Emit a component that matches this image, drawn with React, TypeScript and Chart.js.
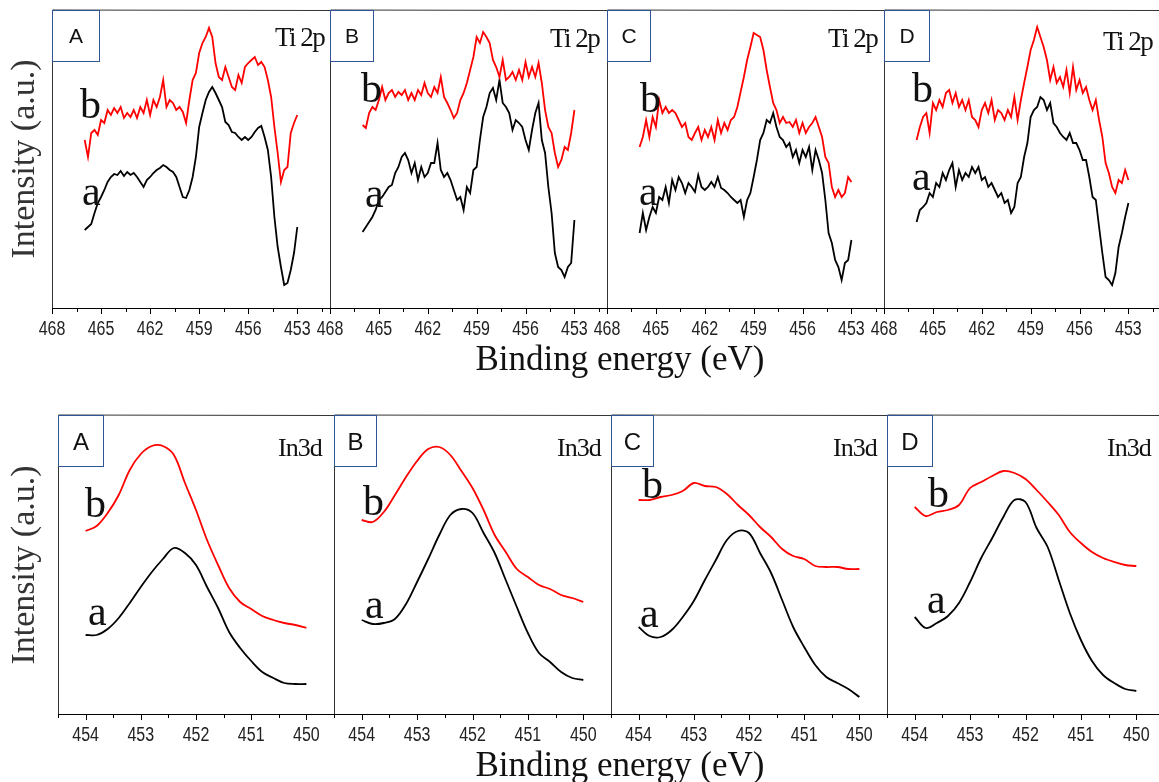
import React, { useEffect, useRef } from "react";
import { Chart, registerables } from "chart.js";

Chart.register(...registerables);

// ---------- DATA ----------
const tiEnergy = [
  466.0, 465.8, 465.6, 465.4, 465.2, 465.0, 464.8, 464.6, 464.4, 464.2,
  464.0, 463.8, 463.6, 463.4, 463.2, 463.0, 462.8, 462.6, 462.4, 462.2,
  462.0, 461.8, 461.6, 461.4, 461.2, 461.0, 460.8, 460.6, 460.4, 460.2,
  460.0, 459.8, 459.6, 459.4, 459.2, 459.0, 458.8, 458.6, 458.4, 458.2,
  458.0, 457.8, 457.6, 457.4, 457.2, 457.0, 456.8, 456.6, 456.4, 456.2,
  456.0, 455.8, 455.6, 455.4, 455.2, 455.0, 454.8, 454.6, 454.4, 454.2,
  454.0, 453.8, 453.6, 453.4, 453.2, 453.0,
];

const tiA_a = [
  77, 80, 83, 94, 104, 110, 117, 125, 130, 133,
  132, 136, 131, 135, 132, 134, 130, 125, 120, 127,
  130, 134, 137, 139, 142, 140, 137, 135, 130, 120,
  110, 109, 117, 130, 150, 180, 194, 207, 215, 220,
  214, 207, 200, 185, 182, 175, 174, 170, 167, 170,
  167, 170, 175, 179, 181, 170, 157, 130, 90, 60,
  40, 22, 24, 37, 54, 80,
];
const tiA_b = [
  167, 150, 174, 177, 172, 187, 184, 197, 192, 199,
  194, 200, 189, 194, 190, 197, 189, 200, 194, 207,
  192, 207, 200, 210, 227, 200, 207, 204, 197, 200,
  195, 184, 207, 227, 234, 254, 264, 270, 279, 270,
  244, 230, 227, 240, 230, 220, 217, 232, 224, 240,
  244, 247, 250, 242, 245, 240, 227, 210, 180, 154,
  125, 137, 140, 174, 184, 192,
];
const tiB_a = [
  75, 80, 85, 90, 97, 107, 110, 115, 120, 122,
  134, 140, 150, 154, 147, 134, 144, 127, 140, 130,
  134, 144, 144, 164, 137, 130, 134, 127, 117, 107,
  110, 97, 120, 114, 137, 140, 167, 190, 200, 214,
  219, 207, 227, 204, 200, 194, 177, 187, 184, 180,
  167, 157, 177, 194, 204, 167, 154, 120, 94, 54,
  40, 37, 30, 40, 44, 87,
];
const tiB_b = [
  182, 179, 194, 200, 197, 207, 220, 207, 214, 217,
  210, 215, 212, 217, 207, 214, 207, 217, 212, 224,
  214, 210, 220, 214, 230, 210, 204, 197, 189, 194,
  207, 214, 224, 237, 250, 270, 264, 275, 270, 264,
  247, 240, 230, 247, 227, 230, 235, 227, 237, 227,
  245, 230, 240, 230, 244, 224, 197, 180, 174, 154,
  140, 147, 160, 157, 174, 197,
];
const tiC_a = [
  74, 94, 77, 90, 100, 94, 110, 107, 120, 104,
  127, 117, 130, 124, 114, 124, 120, 115, 132, 120,
  117, 120, 125, 120, 130, 119, 117, 114, 110, 107,
  104, 107, 90, 107, 114, 130, 147, 167, 174, 187,
  184, 194, 180, 170, 167, 160, 164, 150, 157, 144,
  157, 150, 160, 137, 157, 147, 134, 107, 74, 64,
  47, 40, 27, 44, 47, 67,
];
const tiC_b = [
  160, 170, 187, 170, 190, 180, 207, 194, 200, 194,
  197, 194, 187, 180, 184, 170, 167, 174, 180, 167,
  177, 170, 180, 167, 187, 174, 184, 177, 187, 190,
  200, 215, 230, 247, 260, 274, 272, 270, 257, 237,
  220, 204, 197, 184, 190, 184, 185, 180, 187, 174,
  184, 174, 180, 184, 190, 180, 170, 150, 144, 120,
  110, 117, 110, 114, 130, 125,
];
const tiD_a = [
  85, 97, 100, 104, 114, 110, 124, 120, 134, 127,
  137, 144, 120, 137, 127, 134, 130, 140, 134, 140,
  127, 130, 120, 124, 117, 110, 114, 104, 107, 94,
  100, 124, 130, 150, 164, 190, 197, 200, 210, 207,
  197, 204, 184, 180, 174, 170, 167, 174, 164, 164,
  157, 147, 147, 130, 110, 107, 80, 54, 30, 27,
  22, 34, 60, 74, 90, 104,
];
const tiD_b = [
  167, 180, 190, 194, 174, 204, 197, 207, 200, 214,
  217, 204, 214, 200, 207, 197, 207, 190, 187, 180,
  197, 204, 194, 207, 187, 197, 194, 187, 197, 190,
  210, 187, 207, 224, 240, 257, 267, 280, 270, 260,
  247, 227, 240, 224, 230, 220, 237, 214, 240, 217,
  227, 214, 220, 207, 197, 207, 187, 170, 144, 134,
  120, 114, 127, 124, 137, 127,
];

const inEnergy = [
  454.0, 453.8, 453.6, 453.4, 453.2, 453.0, 452.8, 452.6, 452.4, 452.2,
  452.0, 451.8, 451.6, 451.4, 451.2, 451.0, 450.8, 450.6, 450.4, 450.2, 450.0,
];
const inA_a = [78, 78, 84, 95, 110, 126, 141, 154, 165, 160, 148, 126, 105, 81, 65, 52, 41, 35, 30, 29, 29];
const inA_b = [182, 187, 200, 218, 243, 259, 267, 267, 258, 230, 203, 173, 148, 125, 111, 104, 97, 93, 90, 88, 85];
const inB_a = [93, 89, 90, 94, 109, 131, 154, 178, 198, 204, 200, 180, 160, 133, 106, 80, 60, 51, 41, 35, 33];
const inB_b = [193, 191, 201, 218, 236, 252, 264, 266, 258, 242, 225, 203, 178, 161, 144, 136, 128, 124, 118, 115, 111];
const inC_a = [86, 77, 76, 83, 96, 112, 133, 153, 173, 182, 180, 160, 140, 113, 86, 66, 48, 36, 30, 24, 16];
const inC_b = [213, 213, 216, 218, 222, 230, 227, 226, 219, 208, 198, 186, 176, 164, 157, 154, 147, 146, 146, 144, 144];
const inD_a = [96, 85, 90, 97, 110, 131, 155, 175, 196, 213, 211, 185, 166, 133, 100, 73, 52, 38, 30, 24, 22];
const inD_b = [206, 197, 201, 203, 208, 225, 231, 237, 242, 240, 234, 223, 211, 198, 181, 170, 161, 155, 151, 148, 147];

const tiTicks = [468, 466.5, 465, 463.5, 462, 460.5, 459, 457.5, 456, 454.5, 453, 451.5];
const tiMajor = [468, 465, 462, 459, 456, 453];
const inTicks = [454.5, 454, 453.5, 453, 452.5, 452, 451.5, 451, 450.5, 450, 449.5];
const inMajor = [454, 453, 452, 451, 450];

const panelLetters = ["A", "B", "C", "D"];
const tiTitle = "Ti 2p";
const inTitle = "In3d";
const xTitle = "Binding energy (eV)";
const yTitle = "Intensity (a.u.)";

// ---------- LAYOUT ----------
const TOP = { y0: 10, y1: 308, cols: [[52, 330], [330, 607], [607, 884], [884, 1161]] };
const BOT = { y0: 415, y1: 714, cols: [[58, 334], [334, 611], [611, 887], [887, 1164]] };

const SERIF = "'Liberation Serif', 'Times New Roman', serif";
const SANS = "'Liberation Sans', Arial, sans-serif";

type PanelProps = {
  left: number;
  right: number;
  top: number;
  bottom: number;
  energy: number[];
  a: number[];
  b: number[];
  xMin: number;
  xMax: number;
  yMin: number;
  yMax: number;
  ticks: number[];
  major: number[];
  tension: number;
};

const PADX = 24;
const PADT = 6;
const AXIS_H = 40;

function Panel(p: PanelProps) {
  const ref = useRef<HTMLCanvasElement>(null);
  const w = p.right - p.left + PADX * 2;
  const h = p.bottom - p.top + PADT + AXIS_H;

  useEffect(() => {
    const frame = {
      id: "frame",
      afterDraw(chart: any) {
        const { ctx, chartArea } = chart;
        const { left, right, top, bottom } = chartArea;
        const xs = chart.scales.x;
        const yb = Math.round(bottom);
        ctx.save();
        ctx.lineWidth = 1;
        ctx.strokeStyle = "#333";
        ctx.beginPath();
        ctx.moveTo(Math.round(left) + 0.5, bottom);
        ctx.lineTo(Math.round(left) + 0.5, top);
        ctx.lineTo(right, Math.round(top) + 0.5);
        ctx.moveTo(Math.round(right) + 0.5, top);
        ctx.lineTo(Math.round(right) + 0.5, bottom);
        ctx.stroke();
        ctx.strokeStyle = "#000";
        ctx.beginPath();
        ctx.moveTo(left, yb + 0.5);
        ctx.lineTo(right + 1, yb + 0.5);
        for (const t of xs.ticks) {
          const px = Math.round(xs.getPixelForValue(t.value)) + 0.5;
          const len = p.major.includes(t.value) ? 5 : 3;
          ctx.moveTo(px, yb);
          ctx.lineTo(px, yb + 1 + len);
        }
        ctx.stroke();
        // tick labels (condensed, like Arial Narrow)
        ctx.fillStyle = "#222";
        ctx.font = "20px 'Liberation Sans', Arial, sans-serif";
        ctx.textAlign = "center";
        ctx.textBaseline = "alphabetic";
        for (const t of xs.ticks) {
          if (!p.major.includes(t.value)) continue;
          const px = xs.getPixelForValue(t.value);
          ctx.save();
          ctx.translate(px, yb + 27);
          ctx.scale(0.8, 1);
          ctx.fillText(String(t.value), 0, 0);
          ctx.restore();
        }
        ctx.restore();
      },
    };

    const chart = new Chart(ref.current as HTMLCanvasElement, {
      type: "line",
      data: {
        datasets: [
          {
            data: p.energy.map((e, i) => ({ x: e, y: p.b[i] })),
            borderColor: "#ff0000",
            borderWidth: 1.8,
            pointRadius: 0,
            tension: p.tension,
          },
          {
            data: p.energy.map((e, i) => ({ x: e, y: p.a[i] })),
            borderColor: "#000000",
            borderWidth: 1.8,
            pointRadius: 0,
            tension: p.tension,
          },
        ],
      },
      options: {
        responsive: false,
        animation: false,
        devicePixelRatio: 1,
        layout: { padding: { left: PADX, right: PADX, top: PADT, bottom: 0 } },
        plugins: { legend: { display: false }, tooltip: { enabled: false } },
        scales: {
          x: {
            type: "linear",
            reverse: true,
            min: p.xMin,
            max: p.xMax,
            afterBuildTicks: (s: any) => {
              s.ticks = p.ticks.map((v) => ({ value: v }));
            },
            afterFit: (s: any) => {
              s.height = AXIS_H;
            },
            grid: { display: false },
            border: { display: false },
            ticks: { display: false, autoSkip: false, maxRotation: 0, minRotation: 0 },
          },
          y: { display: false, min: p.yMin, max: p.yMax },
        },
      } as any,
      plugins: [frame],
    });
    return () => chart.destroy();
  }, []);

  return (
    <canvas
      ref={ref}
      width={w}
      height={h}
      style={{ position: "absolute", left: p.left - PADX, top: p.top - PADT, width: w, height: h }}
    />
  );
}

const tiSeries = [
  [tiA_a, tiA_b],
  [tiB_a, tiB_b],
  [tiC_a, tiC_b],
  [tiD_a, tiD_b],
];
const inSeries = [
  [inA_a, inA_b],
  [inB_a, inB_b],
  [inC_a, inC_b],
  [inD_a, inD_b],
];

// label positions (left x, baseline y)
const topBoxes = [[52, 47], [330, 43], [607, 43], [884, 45]];
const botBoxes = [[58, 45], [334, 42], [611, 42], [887, 45]];
const topTitleX = [275, 550, 828, 1103];
const topTitleY = [46, 47, 47, 50];
const botTitleX = [278, 557, 833, 1107];
const topB = [[80, 118], [361, 102], [640, 112], [912, 102]];
const topA = [[82, 205], [365, 207], [639, 205], [912, 190]];
const botB = [[85, 517], [363, 515], [642, 498], [928, 507]];
const botA = [[88, 625], [365, 618], [640, 627], [927, 613]];

export default function App() {
  return (
    <div
      style={{
        position: "absolute",
        left: 0,
        top: 0,
        width: 1159,
        height: 782,
        overflow: "hidden",
        background: "#fff",
      }}
    >
      {TOP.cols.map((c, i) => (
        <Panel
          key={"t" + i}
          left={c[0]}
          right={c[1]}
          top={TOP.y0}
          bottom={TOP.y1}
          energy={tiEnergy}
          a={tiSeries[i][0]}
          b={tiSeries[i][1]}
          xMin={451}
          xMax={468}
          yMin={-1}
          yMax={297}
          ticks={tiTicks}
          major={tiMajor}
          tension={0}
        />
      ))}
      {BOT.cols.map((c, i) => (
        <Panel
          key={"b" + i}
          left={c[0]}
          right={c[1]}
          top={BOT.y0}
          bottom={BOT.y1}
          energy={inEnergy}
          a={inSeries[i][0]}
          b={inSeries[i][1]}
          xMin={449.5}
          xMax={454.5}
          yMin={-1}
          yMax={298}
          ticks={inTicks}
          major={inMajor}
          tension={0.35}
        />
      ))}
      <svg
        width={1159}
        height={782}
        style={{ position: "absolute", left: 0, top: 0, pointerEvents: "none" }}
      >
        {topBoxes.map((b, i) => (
          <g key={"tb" + i}>
            <rect x={b[0] + 0.5} y={TOP.y0 + 0.5} width={b[1]} height={51} fill="none" stroke="#2F5597" strokeWidth={1} />
            <text x={b[0] + b[1] / 2 + 0.5} y={43} textAnchor="middle" fontFamily={SANS} fontSize={21} fill="#111">
              {panelLetters[i]}
            </text>
          </g>
        ))}
        {botBoxes.map((b, i) => (
          <g key={"bb" + i}>
            <rect x={b[0] + 0.5} y={BOT.y0 + 0.5} width={b[1]} height={51} fill="none" stroke="#2F5597" strokeWidth={1} />
            <text x={b[0] + b[1] / 2 + 0.5} y={450} textAnchor="middle" fontFamily={SANS} fontSize={24} fill="#111">
              {panelLetters[i]}
            </text>
          </g>
        ))}
        {topTitleX.map((x, i) => (
          <text key={"tt" + i} x={x} y={topTitleY[i]} fontFamily={SERIF} fontSize={27} letterSpacing={-1.5} fill="#111">
            {tiTitle}
          </text>
        ))}
        {botTitleX.map((x, i) => (
          <text key={"bt" + i} x={x} y={456} fontFamily={SERIF} fontSize={26} letterSpacing={-1} fill="#111">
            {inTitle}
          </text>
        ))}
        {topB.map((p, i) => (
          <text key={"tbl" + i} x={p[0]} y={p[1]} fontFamily={SERIF} fontSize={42} fill="#111">b</text>
        ))}
        {topA.map((p, i) => (
          <text key={"tal" + i} x={p[0]} y={p[1]} fontFamily={SERIF} fontSize={42} fill="#111">a</text>
        ))}
        {botB.map((p, i) => (
          <text key={"bbl" + i} x={p[0]} y={p[1]} fontFamily={SERIF} fontSize={42} fill="#111">b</text>
        ))}
        {botA.map((p, i) => (
          <text key={"bal" + i} x={p[0]} y={p[1]} fontFamily={SERIF} fontSize={42} fill="#111">a</text>
        ))}
        <text x={620} y={370} textAnchor="middle" fontFamily={SERIF} fontSize={35} fill="#111">{xTitle}</text>
        <text x={620} y={776} textAnchor="middle" fontFamily={SERIF} fontSize={35} fill="#111">{xTitle}</text>
        <text transform="translate(34,159) rotate(-90)" textAnchor="middle" fontFamily={SERIF} fontSize={34} fill="#333">{yTitle}</text>
        <text transform="translate(34,565) rotate(-90)" textAnchor="middle" fontFamily={SERIF} fontSize={34} fill="#333">{yTitle}</text>
      </svg>
    </div>
  );
}
